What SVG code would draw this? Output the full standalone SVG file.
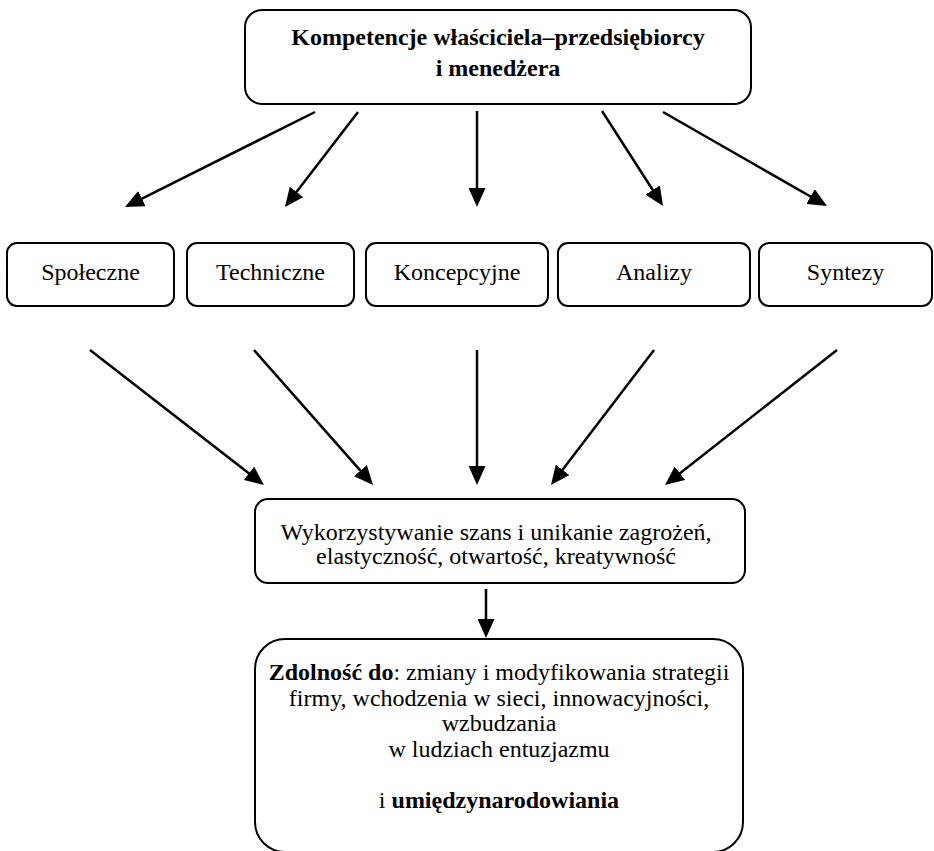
<svg xmlns="http://www.w3.org/2000/svg" width="934" height="851" viewBox="0 0 934 851">
<style>
.box{fill:#fff;stroke:#000;stroke-width:2}
.t{font-family:"Liberation Serif","Times New Roman",serif;font-size:24px;fill:#000;text-anchor:middle}
.b{font-weight:bold}
.c{stroke:#000;stroke-width:2.5;fill:none;marker-end:url(#ah)}
</style>
<defs>
<marker id="ah" markerUnits="userSpaceOnUse" markerWidth="19" markerHeight="17" refX="14" refY="8.5" orient="auto">
<path d="M0,0 L19,8.5 L0,17 z" fill="#000"/>
</marker>
</defs>
<rect width="934" height="851" fill="#fff"/>
<g id="top">
<rect class="box" x="245" y="10" width="506" height="94" rx="17"/>
<text class="t b" x="498" y="45">Kompetencje właściciela–przedsiębiorcy</text>
<text class="t b" x="498" y="76">i menedżera</text>
</g>
<g id="spoleczne">
<rect class="box" x="7" y="243" width="167" height="63" rx="10"/>
<text class="t" x="90.5" y="280">Społeczne</text>
</g>
<g id="techniczne">
<rect class="box" x="187" y="243" width="167" height="63" rx="10"/>
<text class="t" x="270.5" y="280">Techniczne</text>
</g>
<g id="koncepcyjne">
<rect class="box" x="366" y="243" width="182" height="63" rx="10"/>
<text class="t" x="457" y="280">Koncepcyjne</text>
</g>
<g id="analizy">
<rect class="box" x="558" y="243" width="192" height="63" rx="10"/>
<text class="t" x="654" y="280">Analizy</text>
</g>
<g id="syntezy">
<rect class="box" x="759" y="243" width="173" height="63" rx="10"/>
<text class="t" x="845.5" y="280">Syntezy</text>
</g>
<g id="middle">
<rect class="box" x="255" y="499" width="490" height="84" rx="13"/>
<text class="t" x="496" y="540">Wykorzystywanie szans i unikanie zagrożeń,</text>
<text class="t" x="496" y="564">elastyczność, otwartość, kreatywność</text>
</g>
<g id="bottom">
<rect class="box" x="255" y="639" width="488" height="213" rx="30"/>
<text class="t" x="499" y="680"><tspan class="b">Zdolność do</tspan>: zmiany i modyfikowania strategii</text>
<text class="t" x="499" y="706">firmy, wchodzenia w sieci, innowacyjności,</text>
<text class="t" x="499" y="731">wzbudzania</text>
<text class="t" x="499" y="757">w ludziach entuzjazmu</text>
<text class="t" x="499" y="808">i <tspan class="b">umiędzynarodowiania</tspan></text>
</g>
<g id="connectors">
<line class="c" x1="315" y1="112" x2="129.5" y2="204.8"/>
<line class="c" x1="358" y1="112" x2="288" y2="203"/>
<line class="c" x1="477" y1="111" x2="477" y2="202"/>
<line class="c" x1="602" y1="111" x2="660.3" y2="201.8"/>
<line class="c" x1="663" y1="112" x2="822.7" y2="203.5"/>
<line class="c" x1="90" y1="350" x2="260" y2="481.9"/>
<line class="c" x1="254" y1="350" x2="369.7" y2="481.2"/>
<line class="c" x1="477" y1="350" x2="477" y2="480"/>
<line class="c" x1="654" y1="350" x2="554" y2="481"/>
<line class="c" x1="837" y1="350" x2="668.9" y2="481.9"/>
<line class="c" x1="486" y1="589" x2="486" y2="633"/>
</g>
</svg>
